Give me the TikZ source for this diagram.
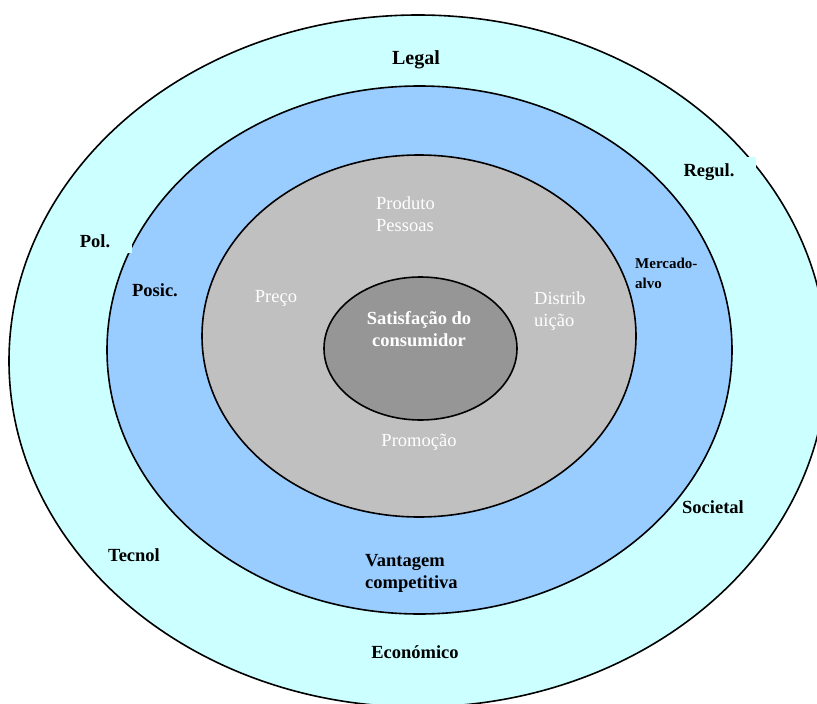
\documentclass[tikz,border=0pt]{standalone}
\usepackage{fontspec}
\setmainfont{Liberation Serif}
\definecolor{envcyan}{HTML}{CCFFFF}
\definecolor{mixblue}{HTML}{99CCFF}
\definecolor{mixgray}{HTML}{C0C0C0}
\definecolor{coregray}{HTML}{969696}
\tikzset{
  ring/.style={draw=black, line width=1.6pt},
  boldlbl/.style={font=\fontsize{18.5}{22}\selectfont\bfseries, text=black, inner sep=0pt},
  smalllbl/.style={font=\fontsize{15}{20}\selectfont\bfseries, text=black, inner sep=0pt, align=left},
  whitelbl/.style={font=\fontsize{18.5}{22}\selectfont, text=white, inner sep=0pt},
  corelbl/.style={font=\fontsize{18.5}{22}\selectfont\bfseries, text=white, inner sep=0pt, align=center},
  coverbox/.style={fill=envcyan, draw=none}
}
\begin{document}
\begin{tikzpicture}[x=1pt, y=-1pt]
\useasboundingbox (0,0) rectangle (817,704);
\begin{scope}
\clip (0,0) rectangle (817,704);
% concentric rings, outermost first
\draw[ring, fill=envcyan] (418,361) ellipse [x radius=409, y radius=346];
\draw[ring, fill=mixblue] (419.5,350) ellipse [x radius=312.5, y radius=264];
\draw[ring, fill=mixgray] (419,336) ellipse [x radius=217, y radius=181];
\draw[ring, fill=coregray] (420.5,348.5) ellipse [x radius=96.5, y radius=71.5];
% label boxes that sit over the ring outlines
\fill[coverbox] (62,227) rectangle (132,253);
\fill[coverbox] (674,157) rectangle (756,187);
\end{scope}
% environment ring
\node[boldlbl, font=\fontsize{20}{24}\selectfont\bfseries] (legal) at (416,60) {Legal};
\node[boldlbl] (regul) at (709,172) {Regul.};
\node[boldlbl] (pol) at (95,241) {Pol.};
\node[boldlbl] (societal) at (713,507) {Societal};
\node[boldlbl] (tecnol) at (134,555) {Tecnol};
\node[boldlbl] (econ) at (415,652) {Económico};
% strategy ring
\node[boldlbl] (posic) at (155,290) {Posic.};
\node[smalllbl, anchor=west] (mercado) at (635,273) {Mercado-\\alvo};
\node[boldlbl, anchor=west, align=left] (vantagem) at (365,573.5) {Vantagem\\competitiva};
% marketing mix ring
\node[whitelbl, anchor=west, align=left] (produto) at (376,214) {Produto\\Pessoas};
\node[whitelbl] (preco) at (276,298) {Preço};
\node[whitelbl, anchor=west, align=left] (distrib) at (534,311) {Distrib\\uição};
\node[whitelbl] (promocao) at (419,442) {Promoção};
% core
\node[corelbl] (core) at (419,329) {Satisfação do\\consumidor};
\end{tikzpicture}
\end{document}
